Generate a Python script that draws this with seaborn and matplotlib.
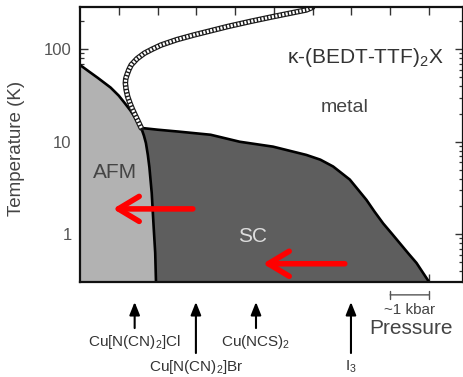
import numpy as np
import matplotlib
matplotlib.use("Agg")
import matplotlib.pyplot as plt
import matplotlib.transforms as mtransforms
import seaborn as sns

# -------- DATA --------
# pressure axis in arb. units (1 unit ~ 1 kbar), temperature in K
afm_x = [0.0, 0.23, 0.46, 0.79, 1.0, 1.15, 1.30, 1.41, 1.50, 1.58, 1.65, 1.70, 1.75, 1.79, 1.85, 1.90, 1.94, 1.96]
afm_T = [67.6, 57.5, 49.0, 38.5, 31.5, 26.3, 21.8, 18.5, 16.2, 14.1, 11.6, 9.7, 7.2, 5.3, 2.8, 1.2, 0.63, 0.307]

sc_x = [1.58, 2.00, 2.52, 3.37, 4.12, 4.98, 5.84, 6.20, 6.53, 6.70, 6.96, 7.18, 7.39, 7.60, 7.82,
        8.04, 8.25, 8.47, 8.68, 9.0]
sc_T = [14.1, 13.5, 12.9, 11.9, 10.0, 8.85, 7.2, 6.4, 5.4, 4.75, 3.9, 3.01, 2.35, 1.75, 1.31,
        1.02, 0.80, 0.62, 0.49, 0.307]

cross_x = [1.58, 1.46, 1.36, 1.29, 1.23, 1.19, 1.17, 1.18, 1.21, 1.26, 1.32, 1.47, 1.66, 1.86, 2.09,
           2.50, 2.95, 3.81, 4.40, 4.98, 5.84, 6.0]
cross_T = [14.1, 18.0, 22.1, 26.0, 30.7, 36.5, 42.9, 48.0, 52.7, 60.0, 67.6, 79.0, 90.5, 100, 111,
           127, 143, 176, 200, 225, 266, 284]

salt_labels = [r"Cu[N(CN)$_2$]Cl", r"Cu[N(CN)$_2$]Br", r"Cu(NCS)$_2$", r"I$_3$"]
salt_x = [1.41, 2.99, 4.54, 6.99]

# red arrows: (from x, to x, T)
shift_from = [2.91, 6.83]
shift_to = [0.85, 4.72]
shift_T = [1.88, 0.48]

x_lim = (0, 9.88)
y_lim = (0.307, 284)

# -------- STYLE --------
sns.set_style("ticks")
plt.rcParams["font.family"] = ["Liberation Sans", "DejaVu Sans"]
plt.rcParams["mathtext.fontset"] = "custom"
plt.rcParams["mathtext.rm"] = "Liberation Sans"
plt.rcParams["mathtext.it"] = "Liberation Sans:italic"

fig = plt.figure(figsize=(4.64, 3.77), dpi=100)
ax = fig.add_axes([80 / 464, (377 - 281.7) / 377, 383 / 464, 274.4 / 377])
ax.set_yscale("log")
ax.set_xlim(*x_lim)
ax.set_ylim(*y_lim)

# -------- PHASE REGIONS --------
afm_poly_x = np.concatenate([[0.0], afm_x, [0.0]])
afm_poly_T = np.concatenate([[afm_T[0]], afm_T, [afm_T[-1]]])
ax.fill(afm_poly_x, afm_poly_T, color="#b2b2b2", lw=0, zorder=1)

lower = [i for i, t in enumerate(afm_T) if t <= sc_T[0]]
sc_poly_x = np.concatenate([sc_x, [afm_x[i] for i in lower][::-1]])
sc_poly_T = np.concatenate([sc_T, [afm_T[i] for i in lower][::-1]])
ax.fill(sc_poly_x, sc_poly_T, color="#5e5e5e", lw=0, zorder=1)

sns.lineplot(x=afm_x, y=afm_T, sort=False, estimator=None, color="black", lw=1.9, ax=ax, zorder=3)
sns.lineplot(x=sc_x, y=sc_T, sort=False, estimator=None, color="black", lw=1.9, ax=ax, zorder=3)

# crossover line: black outline with white dots inside
sns.lineplot(x=cross_x, y=cross_T, sort=False, estimator=None, color="#1a1a1a", lw=4.0, ax=ax, zorder=4)
ax.plot(cross_x, cross_T, color="white", lw=2.3, dashes=(0.65, 0.45), zorder=5,
        dash_capstyle="butt", solid_joinstyle="round")

# -------- LABELS INSIDE --------
ax.text(0.9, 4.6, "AFM", fontsize=15, color="#444444", ha="center", va="center", zorder=6)
ax.text(4.46, 0.95, "SC", fontsize=15, color="#dddddd", ha="center", va="center", zorder=6)
ax.text(6.83, 23.4, "metal", fontsize=14, color="#444444", ha="center", va="center", zorder=6)
ax.text(7.36, 82, r"κ-(BEDT-TTF)$_2$X", fontsize=15, color="#333333", ha="center", va="center", zorder=6)

for x0, x1, t in zip(shift_from, shift_to, shift_T):
    ax.annotate("", xy=(x1, t), xytext=(x0, t),
                arrowprops=dict(arrowstyle="->,head_length=0.75,head_width=0.45", color="#ff0000",
                                lw=4.0, shrinkA=0, shrinkB=0, mutation_scale=20,
                                capstyle="round", joinstyle="round"),
                zorder=7)

# -------- AXES --------
ax.set_ylabel("Temperature (K)", fontsize=13.5, color="#444444")
ax.yaxis.set_label_coords(-0.143, 0.487)
ax.set_xlabel("")
ax.set_xticks(range(1, 10))
ax.set_xticklabels([])
ax.set_yticks([1, 10, 100])
ax.set_yticklabels(["1", "10", "100"])
ax.tick_params(axis="both", which="major", direction="in", length=6, width=1,
               top=True, right=True, color="#333333", labelsize=12, labelcolor="#555555", pad=6)
ax.tick_params(axis="y", which="minor", direction="in", length=3.2, width=0.9,
               right=True, left=True, color="#333333")
ax.tick_params(axis="x", which="minor", bottom=False, top=False)
for s in ax.spines.values():
    s.set_linewidth(1.6)
    s.set_color("#111111")
    s.set_zorder(8)

# -------- BELOW THE AXES --------
trans = mtransforms.blended_transform_factory(ax.transData, ax.transAxes)
tails = [-0.169, -0.260, -0.169, -0.260]
label_y = [-0.220, -0.311, -0.220, -0.311]
for sx, lab, ty, ly in zip(salt_x, salt_labels, tails, label_y):
    ax.annotate("", xy=(sx, -0.074), xytext=(sx, ty), xycoords=trans, textcoords=trans,
                arrowprops=dict(arrowstyle="-|>,head_length=0.55,head_width=0.22", color="black",
                                lw=1.5, shrinkA=0, shrinkB=0, mutation_scale=14),
                annotation_clip=False)
    ax.text(sx, ly, lab, transform=trans, fontsize=11, color="#333333",
            ha="center", va="center", clip_on=False)

ax.annotate("", xy=(8, -0.048), xytext=(9, -0.048), xycoords=trans, textcoords=trans,
            arrowprops=dict(arrowstyle="|-|,widthA=0.3,widthB=0.3", color="#555555",
                            lw=1.0, shrinkA=0, shrinkB=0, mutation_scale=10),
            annotation_clip=False)
ax.text(8.5, -0.103, "~1 kbar", transform=trans, fontsize=11, color="#444444",
        ha="center", va="center", clip_on=False)
ax.text(8.55, -0.169, "Pressure", transform=trans, fontsize=15, color="#444444",
        ha="center", va="center", clip_on=False)

fig.savefig("out.png", dpi=100)
plt.close(fig)
